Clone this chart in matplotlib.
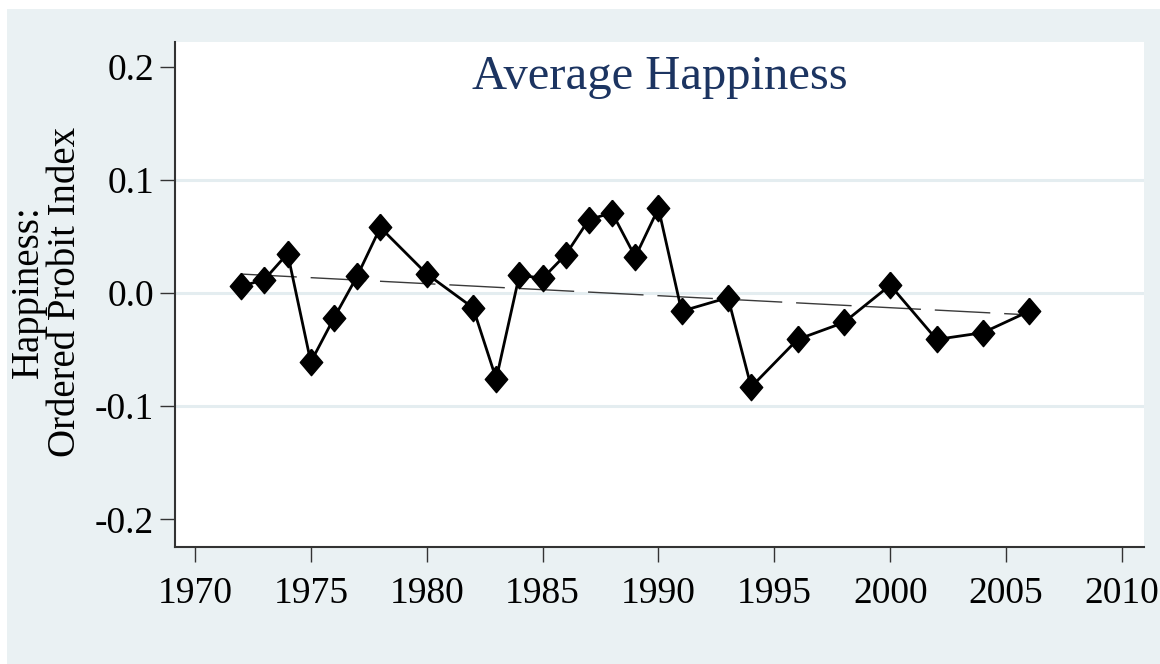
import numpy as np
import matplotlib
matplotlib.use("Agg")
import matplotlib.pyplot as plt
from matplotlib.patches import Rectangle

# survey years and the ordered probit happiness index
years = [1972, 1973, 1974, 1975, 1976, 1977, 1978, 1980, 1982, 1983, 1984, 1985, 1986,
         1987, 1988, 1989, 1990, 1991, 1993, 1994, 1996, 1998, 2000, 2002, 2004, 2006]
happiness = [0.006, 0.012, 0.035, -0.061, -0.022, 0.015, 0.058, 0.017, -0.013, -0.076, 0.016, 0.013, 0.034,
             0.065, 0.071, 0.032, 0.075, -0.016, -0.004, -0.083, -0.041, -0.026, 0.007, -0.041, -0.035, -0.016]

x_ticks = [1970, 1975, 1980, 1985, 1990, 1995, 2000, 2005, 2010]
y_ticks = [-0.2, -0.1, 0.0, 0.1, 0.2]
y_tick_labels = ["-0.2", "-0.1", "0.0", "0.1", "0.2"]
grid_levels = [-0.1, 0.0, 0.1]

title = "Average Happiness"
ylabel = "Happiness:\nOrdered Probit Index"

plt.rcParams["font.family"] = ["Liberation Serif", "DejaVu Serif"]

bg = "#eaf1f3"
fig = plt.figure(figsize=(11.6, 6.64), dpi=100)
fig.patch.set_facecolor("white")
# stata-like outer panel
fig.add_artist(Rectangle((7 / 1160, 0), 1 - 7 / 1160, 1 - 9 / 664, transform=fig.transFigure,
                         facecolor=bg, edgecolor="none", zorder=-5))

ax = fig.add_axes([175 / 1160, 1 - 547 / 664, (1144 - 175) / 1160, (547 - 42) / 664])
ax.set_zorder(2)
ax.set_facecolor("white")

for g in grid_levels:
    ax.axhline(g, color="#e4edf0", lw=2.2, zorder=1)

# linear trend
coef = np.polyfit(years, happiness, 1)
tx = np.array([years[0], years[-1]])
ax.plot(tx, np.polyval(coef, tx), color="#3a3a3a", lw=1.0, dashes=(40, 10), zorder=2)

diamond = [(0, 1), (0.85, 0), (0, -1), (-0.85, 0), (0, 1)]
ax.plot(years, happiness, color="black", lw=2.0, marker=diamond, markersize=19,
        markerfacecolor="black", markeredgecolor="black", zorder=3)

ax.set_xlim(1969.14, 2010.95)
ax.set_ylim(-0.2245, 0.222)
ax.set_xticks(x_ticks)
ax.set_yticks(y_ticks)
ax.set_yticklabels(y_tick_labels)

for s in ["top", "right"]:
    ax.spines[s].set_visible(False)
for s in ["left", "bottom"]:
    ax.spines[s].set_color("#333333")
    ax.spines[s].set_linewidth(1.5)

ax.tick_params(axis="both", length=11, width=1.0, color="#333333", labelsize=27, labelcolor="black")
ax.tick_params(axis="x", pad=10)
ax.tick_params(axis="y", pad=4)

ax.set_ylabel(ylabel, fontsize=28, linespacing=1.0, va="center", ha="center")
ax.yaxis.set_label_coords((47 - 175) / 969, 0.505)

ax.text(0.5, 0.975, title, transform=ax.transAxes, ha="center", va="top",
        fontsize=35, color="#1c3461")

fig.savefig("out.png", dpi=100, facecolor=fig.get_facecolor())
